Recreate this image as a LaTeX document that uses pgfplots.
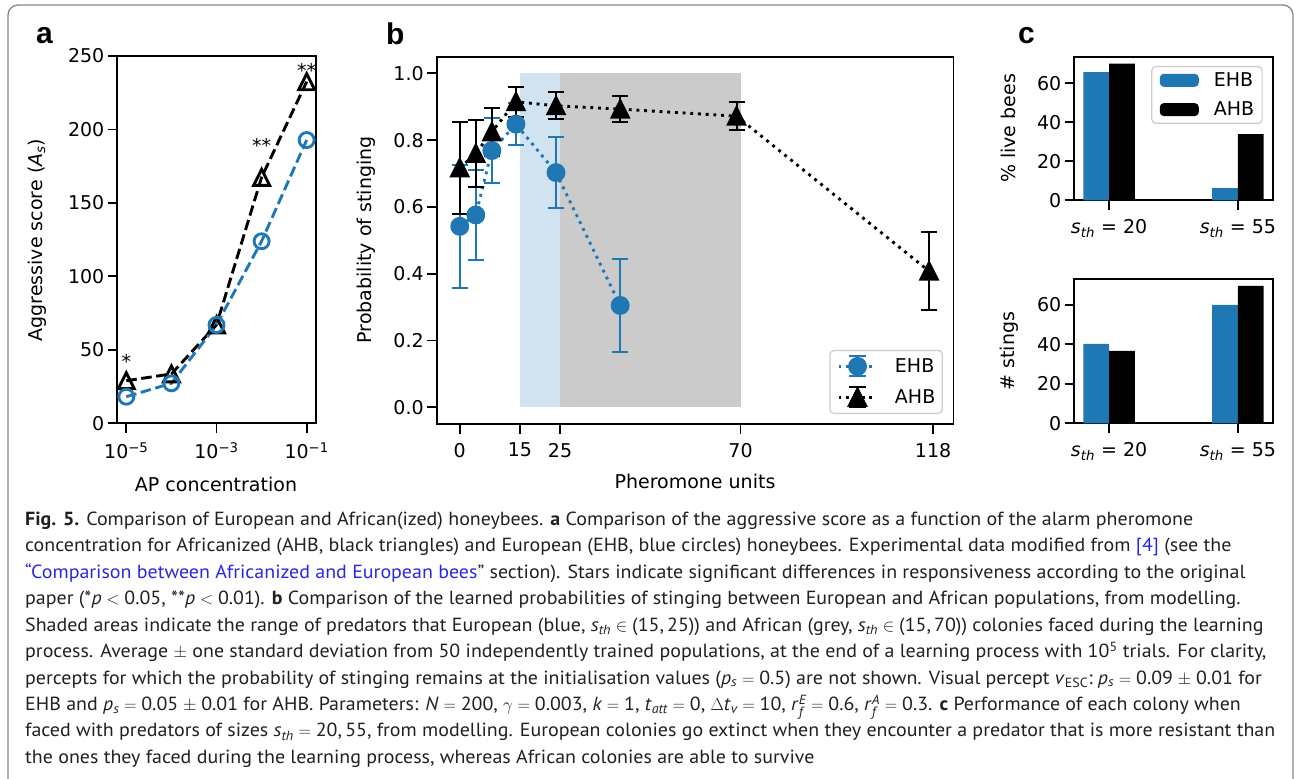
\documentclass[border=0pt]{standalone}
\usepackage{amsmath}
\usepackage{fontspec}
\setmainfont{DejaVu Sans}
\newfontfamily\capfont[FakeStretch=1.05]{PT Sans}
\newfontfamily\panelfont{Liberation Sans}
\usepackage{pgfplots}
\usepackage{pgfplotstable}
\pgfplotsset{compat=1.18}

\definecolor{tabblue}{RGB}{31,119,180}
\definecolor{lblue}{RGB}{209,227,240}
\definecolor{sgrey}{RGB}{203,203,203}
\definecolor{linkblue}{RGB}{40,40,225}
\definecolor{captext}{RGB}{35,31,32}
\definecolor{framegray}{RGB}{135,135,135}

\newcommand\chartfont{\fontsize{19}{22}\selectfont}
\newcommand\capf{\capfont\fontsize{19}{22}\selectfont}
\newcommand\eq{\mskip5mu plus 1mu{=}\mskip5mu plus 1mu}

\pgfdeclareplotmark{mtri}{%
  \pgfpathmoveto{\pgfqpoint{0pt}{\pgfplotmarksize}}%
  \pgfpathlineto{\pgfqpoint{-\pgfplotmarksize}{-\pgfplotmarksize}}%
  \pgfpathlineto{\pgfqpoint{\pgfplotmarksize}{-\pgfplotmarksize}}%
  \pgfpathclose\pgfusepathqfillstroke}
\pgfdeclareplotmark{mtrio}{%
  \pgfpathmoveto{\pgfqpoint{0pt}{\pgfplotmarksize}}%
  \pgfpathlineto{\pgfqpoint{-\pgfplotmarksize}{-\pgfplotmarksize}}%
  \pgfpathlineto{\pgfqpoint{\pgfplotmarksize}{-\pgfplotmarksize}}%
  \pgfpathclose\pgfusepathqstroke}

\pgfplotsset{
  mpl/.style={
    scale only axis,
    axis line style={line width=1.8pt},
    tick align=outside,
    tick pos=left,
    major tick length=9.5pt,
    tick style={line width=1.8pt, black},
    tick label style={font=\chartfont},
    xticklabel style={yshift=-6pt},
    legend style={font=\chartfont},
    /pgf/number format/assume math mode=true,
    clip=false,
  },
  errleg/.style={legend image code/.code={
      \draw[##1, mark=none] (0pt,0pt) -- (38pt,0pt);
      \draw[##1, mark=none, solid, line width=2pt] (19pt,-10pt) -- (19pt,10pt)
        (10.5pt,-10pt) -- (27.5pt,-10pt) (10.5pt,10pt) -- (27.5pt,10pt);
      \draw[##1] plot coordinates {(19pt,0pt)};
  }},
  barleg/.style={legend image code/.code={
      \fill[##1] (0pt,-6.5pt) rectangle (39pt,6.5pt);
  }},
}

\pgfplotstableread{
x y e
0 0.542 0.185
4 0.576 0.136
8 0.769 0.097
14 0.848 0.063
24 0.703 0.106
40 0.305 0.139
}\ehb

\pgfplotstableread{
x y e
0 0.717 0.138
4 0.760 0.099
8 0.825 0.072
14 0.915 0.045
24 0.903 0.040
40 0.893 0.040
69 0.872 0.043
117 0.408 0.117
}\ahb

\begin{document}
\begin{tikzpicture}[font=\chartfont]
\useasboundingbox (0pt,0pt) rectangle (1294pt,-779pt);
% frame
\draw[framegray, line width=1.3pt, rounded corners=10pt]
  (8pt,-790pt) -- (8pt,-5pt) -- (1293pt,-5pt) -- (1293pt,-790pt);

% ---------- panel a ----------
\begin{axis}[mpl, at={(117.3pt,-423.3pt)}, anchor=south west,
  width=198.4pt, height=367.3pt,
  xmode=log, xmin=6.3096e-6, xmax=0.15849, ymin=0, ymax=250,
  xtick={1e-5,1e-3,1e-1},
  xticklabels={10\textsuperscript{−5},10\textsuperscript{−3},10\textsuperscript{−1}},
  minor xtick={}, ytick={0,50,100,150,200,250}]
\addplot[black, line width=2.9pt, dash pattern=on 10.5pt off 4.6pt,
  mark=mtrio, mark size=8pt, mark options={solid, miter limit=3}]
  coordinates {(1e-5,29)(1e-4,33.6)(1e-3,67)(1e-2,167.4)(1e-1,232.5)};
\addplot[tabblue, line width=2.9pt, dash pattern=on 10.5pt off 4.6pt,
  mark=o, mark size=7.5pt, mark options={solid}]
  coordinates {(1e-5,18.1)(1e-4,27.2)(1e-3,66.9)(1e-2,123.9)(1e-1,192.8)};
\node[anchor=base] at (axis cs:1e-5,37) {*};
\node[anchor=base] at (axis cs:1e-2,184) {**};
\node[anchor=base] at (axis cs:1e-1,235.1) {**};
\end{axis}
\node[anchor=base] at (216pt,-491.5pt) {AP concentration};
\node[anchor=base, rotate=90] at (42.5pt,-240pt) {Aggressive score (\textit{A}\textsubscript{\textit{s}})};
\node[anchor=base west, inner sep=0pt, font=\panelfont\fontsize{30}{32}\selectfont\bfseries] at (36pt,-43pt) {a};

% ---------- panel b ----------
\begin{axis}[mpl, at={(436.7pt,-424pt)}, anchor=south west,
  width=516.8pt, height=367.3pt,
  xmin=-5.75, xmax=123.1, ymin=-0.05, ymax=1.05,
  xtick={0,15,25,70,118}, ytick={0,0.2,0.4,0.6,0.8,1.0},
  yticklabel style={/pgf/number format/.cd, fixed, fixed zerofill, precision=1},
  legend style={at={(1,0)}, anchor=south east, xshift=-10.6pt, yshift=10pt,
    draw=black!20, line width=1.2pt, rounded corners=4pt, fill=white,
    inner xsep=7pt, inner ysep=5pt, nodes={inner sep=0pt}, column sep=17pt, row sep=9pt},
  legend cell align=left]
\addplot[fill=lblue, draw=none, forget plot] coordinates {(15,1)(25,1)} \closedcycle;
\addplot[fill=sgrey, draw=none, forget plot] coordinates {(25,1)(70,1)} \closedcycle;
\addplot[tabblue, line width=2.9pt, dash pattern=on 2.9pt off 4.8pt,
  mark=*, mark size=8pt, mark options={solid}, errleg,
  error bars/.cd, y dir=both, y explicit,
  error bar style={solid, line width=2pt},
  error mark options={solid, line width=2pt, mark size=8pt, rotate=90}]
  table[x=x, y=y, y error=e] {\ehb};
\addlegendentry{EHB}
\addplot[black, line width=2.9pt, dash pattern=on 2.9pt off 4.8pt,
  mark=mtri, mark size=8pt, mark options={solid}, errleg,
  error bars/.cd, y dir=both, y explicit,
  error bar style={solid, line width=2pt},
  error mark options={solid, line width=2pt, mark size=8pt, rotate=90}]
  table[x=x, y=y, y error=e] {\ahb};
\addlegendentry{AHB}
\end{axis}
\node[anchor=base] at (695pt,-488pt) {Pheromone units};
\node[anchor=base, rotate=90] at (371pt,-240pt) {Probability of stinging};
\node[anchor=base west, inner sep=0pt, font=\panelfont\fontsize{30}{32}\selectfont\bfseries] at (386pt,-45pt) {b};

% ---------- panel c top ----------
\begin{axis}[mpl, at={(1074.3pt,-200.3pt)}, anchor=south west,
  width=198.4pt, height=143.6pt,
  xmin=-0.27, xmax=1.27, ymin=0, ymax=73.6,
  xtick={0,1},
  xticklabels={\textit{s}\textsubscript{\textit{th}} = 20, \textit{s}\textsubscript{\textit{th}} = 55},
  ytick={0,20,40,60},
  legend style={at={(1,1)}, anchor=north east, xshift=-10pt, yshift=-9.3pt,
    draw=black!20, line width=1.2pt, rounded corners=4pt, fill=white,
    inner xsep=8pt, inner ysep=6pt, nodes={inner sep=0pt}, column sep=15pt, row sep=14pt},
  legend cell align=left]
\addplot[ybar, bar width=0.2, bar shift=0pt, fill=tabblue, draw=none, barleg]
  coordinates {(-0.1,65.7)(0.9,6.2)};
\addlegendentry{EHB}
\addplot[ybar, bar width=0.2, bar shift=0pt, fill=black, draw=none, barleg]
  coordinates {(0.1,70.1)(1.1,33.9)};
\addlegendentry{AHB}
\end{axis}
\node[anchor=base, rotate=90] at (1015pt,-128.5pt) {\% live bees};

% ---------- panel c bottom ----------
\begin{axis}[mpl, at={(1074.3pt,-423.3pt)}, anchor=south west,
  width=198.4pt, height=144.3pt,
  xmin=-0.27, xmax=1.27, ymin=0, ymax=73.1,
  xtick={0,1},
  xticklabels={\textit{s}\textsubscript{\textit{th}} = 20, \textit{s}\textsubscript{\textit{th}} = 55},
  ytick={0,20,40,60}]
\addplot[ybar, bar width=0.2, bar shift=0pt, fill=tabblue, draw=none]
  coordinates {(-0.1,40.2)(0.9,60.0)};
\addplot[ybar, bar width=0.2, bar shift=0pt, fill=black, draw=none]
  coordinates {(0.1,36.7)(1.1,69.6)};
\end{axis}
\node[anchor=base, rotate=90] at (1014pt,-351pt) {\# stings};
\node[anchor=base west, inner sep=0pt, font=\panelfont\fontsize{30}{32}\selectfont\bfseries] at (1018pt,-43.5pt) {c};

% ---------- caption ----------
\begin{scope}[every node/.style={anchor=base west, inner sep=0pt, font=\capf, text=captext}]
\node at (25pt,-525.5pt) {\textbf{Fig. 5.} Comparison of European and African(ized) honeybees. \textbf{a} Comparison of the aggressive score as a function of the alarm pheromone};
\node at (25pt,-551.9pt) {concentration for Africanized (AHB, black triangles) and European (EHB, blue circles) honeybees. Experimental data modified from {\color{linkblue}[4]} (see the};
\node at (25pt,-578.3pt) {{\color{linkblue}“Comparison between Africanized and European bees}” section). Stars indicate significant differences in responsiveness according to the original};
\node at (25pt,-604.8pt) {paper (*\textit{p}${}<{}$0.05, **\textit{p}${}<{}$0.01). \textbf{b} Comparison of the learned probabilities of stinging between European and African populations, from modelling.};
\node at (25pt,-631.2pt) {Shaded areas indicate the range of predators that European (blue, \textit{s}$_{\textit{th}}\in{}$(15,\,25)) and African (grey, \textit{s}$_{\textit{th}}\in{}$(15,\,70)) colonies faced during the learning};
\node at (25pt,-657.6pt) {process. Average $\pm$ one standard deviation from 50 independently trained populations, at the end of a learning process with 10\textsuperscript{5} trials. For clarity,};
\node at (25pt,-684.0pt) {percepts for which the probability of stinging remains at the initialisation values (\textit{p}$_{\textit{s}}\eq$0.5) are not shown. Visual percept \textit{v}$_{\text{ESC}}$:\;\textit{p}$_{\textit{s}}\eq$0.09$\;\pm\;$0.01 for};
\node at (25pt,-710.5pt) {EHB and \textit{p}$_{\textit{s}}\eq$0.05$\;\pm\;$0.01 for AHB. Parameters: \textit{N}$\eq$200,\;$\gamma\eq$0.003,\;\textit{k}$\eq$1,\;\textit{t}$_{\textit{att}}\eq$0,\;$\Delta$\textit{t}$_{\textit{v}}\eq$10,\;\textit{r}$^{\textit{E}}_{\textit{f}}\eq$0.6,\;\textit{r}$^{\textit{A}}_{\textit{f}}\eq$0.3. \textbf{c} Performance of each colony when};
\node at (25pt,-736.9pt) {faced with predators of sizes \textit{s}$_{\textit{th}}={}$20,\,55, from modelling. European colonies go extinct when they encounter a predator that is more resistant than};
\node at (25pt,-763.3pt) {the ones they faced during the learning process, whereas African colonies are able to survive};
\end{scope}
\end{tikzpicture}
\end{document}
